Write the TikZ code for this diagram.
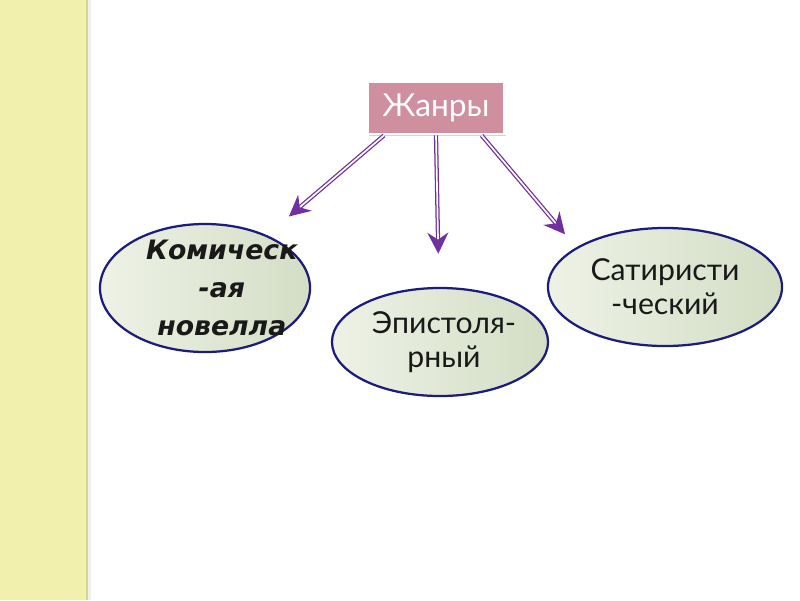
\documentclass[tikz,border=0pt]{standalone}
\usepackage{fontspec}
\setmainfont{Lato}
\newfontfamily\slantfont{DejaVu Sans}
\usetikzlibrary{arrows.meta,shapes.geometric,shadows}
\definecolor{strip}{HTML}{F1F0AC}
\definecolor{stripedge}{HTML}{D6D68C}
\definecolor{rose}{HTML}{CF8F9F}
\definecolor{violet}{HTML}{7030A0}
\definecolor{ovalline}{HTML}{1C1C7A}
\definecolor{ovallight}{HTML}{EEF2E6}
\definecolor{ovaldark}{HTML}{D3DEC5}
\tikzset{
  oval/.style={ellipse, draw=ovalline, line width=1.6pt, left color=ovallight,
               right color=ovaldark, inner sep=0pt},
  genre/.style={font=\fontsize{21.5}{24}\selectfont, align=center, text=black!90},
  comic/.style={font=\slantfont\bfseries\itshape\fontsize{19}{27}\selectfont,
                align=center, text=black!90},
  link/.style={-{Stealth[length=15pt,width=15pt,inset=5pt]}, draw=violet,
               line width=0.9pt, double=white, double distance=1.2pt}
}
\begin{document}
\begin{tikzpicture}[x=0.025cm, y=-0.025cm]
  \useasboundingbox (0,0) rectangle (800,600);
  \fill[strip] (0,0) rectangle (87,600);
  \fill[black!6] (88,0) rectangle (91,600);
  \draw[stripedge, line width=1.2pt] (87,0) -- (87,600);

  \node[fill=rose, draw=white, line width=2pt, minimum width=3.43cm, minimum height=1.3cm,
        text=white, font=\fontsize{22.5}{26}\selectfont,
        drop shadow={opacity=0.35, shadow xshift=1pt, shadow yshift=-1.5pt}] (genres) at (436,108) {Жанры};

  \node[oval, minimum width=5.25cm, minimum height=3.2cm,
        label={[comic, xshift=0.42cm]center:{Комическ\\-ая\\новелла}}] (komich) at (205,288) {};
  \node[oval, minimum width=5.4cm, minimum height=2.7cm,
        label={[genre, xshift=0.1cm]center:{Эпистоля-\\рный}}] (epist) at (440,342) {};
  \node[oval, minimum width=5.85cm, minimum height=2.95cm,
        label={[genre]center:{Сатиристи\\-ческий}}] (satir) at (665,287) {};

  \draw[link, shorten >=0.72cm] ([xshift=-1.3cm]genres.south) -- (komich);
  \draw[link, shorten >=0.83cm] (genres.south) -- (epist);
  \draw[link, shorten >=0.43cm] ([xshift=1.14cm]genres.south) -- (satir.156);
\end{tikzpicture}
\end{document}
